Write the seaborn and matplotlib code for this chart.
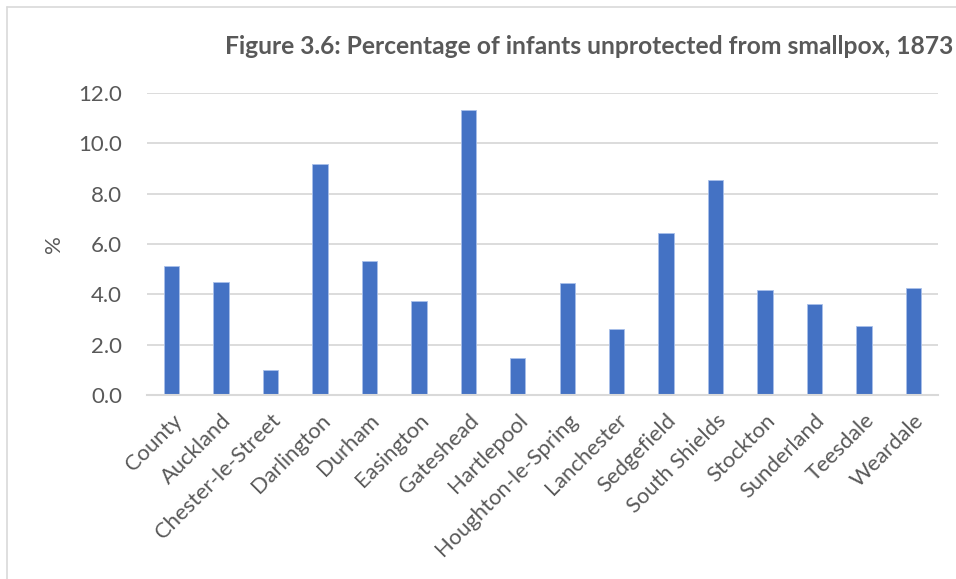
import matplotlib
matplotlib.use("Agg")
import matplotlib.pyplot as plt
import seaborn as sns
import pandas as pd
from matplotlib.lines import Line2D

districts = ["County", "Auckland", "Chester-le-Street", "Darlington", "Durham",
             "Easington", "Gateshead", "Hartlepool", "Houghton-le-Spring",
             "Lanchester", "Sedgefield", "South Shields", "Stockton",
             "Sunderland", "Teesdale", "Weardale"]
pct = [5.13, 4.48, 0.98, 9.18, 5.33, 3.75, 11.31, 1.46, 4.45, 2.64,
       6.42, 8.56, 4.17, 3.61, 2.75, 4.25]
yticks = [0, 2, 4, 6, 8, 10, 12]
title = "Figure 3.6: Percentage of infants unprotected from smallpox, 1873"

df = pd.DataFrame({"district": districts, "pct": pct})

sns.set_theme(style="white")
plt.rcParams["font.family"] = ["Lato", "DejaVu Sans"]

fig = plt.figure(figsize=(9.56, 5.79), dpi=100)
ax = fig.add_axes([147/956, 1-395/579, (938-147)/956, (395-93)/579])

sns.barplot(data=df, x="district", y="pct", color="#4472C4", width=0.31,
            saturation=1, ax=ax, edgecolor="#a9c0ea", linewidth=0.6, zorder=3)

ax.set_ylim(0, 12)
ax.set_xlim(-0.5, len(districts) - 0.5)
ax.set_yticks(yticks)
ax.set_yticklabels([f"{v:.1f}" for v in yticks])
ax.grid(axis="y", color="#d9d9d9", linewidth=1.3, zorder=0)
ax.grid(axis="x", visible=False)
for s in ["top", "right", "left"]:
    ax.spines[s].set_visible(False)
ax.spines["bottom"].set_color("#d9d9d9")
ax.spines["bottom"].set_linewidth(1.5)
ax.spines["bottom"].set_zorder(4)
ax.tick_params(axis="both", length=0, colors="#595959")
ax.tick_params(axis="y", pad=18, labelsize=16)
ax.tick_params(axis="x", pad=11, labelsize=15.8)
plt.setp(ax.get_xticklabels(), rotation=45, ha="right", rotation_mode="anchor")
ax.set_xlabel("")
ax.set_ylabel("%", color="#595959", fontsize=16, labelpad=10)

fig.text(953/956, 1-47/579, title, ha="right", va="center", fontsize=17.7,
         fontweight="bold", color="#595959")

# outer chart frame
fig.add_artist(Line2D([7/956, 1], [1-7/579, 1-7/579], color="#d9d9d9", linewidth=1.2,
                      transform=fig.transFigure))
fig.add_artist(Line2D([7/956, 7/956], [0, 1-7/579], color="#d9d9d9", linewidth=1.2,
                      transform=fig.transFigure))

fig.savefig("out.png", dpi=100)
